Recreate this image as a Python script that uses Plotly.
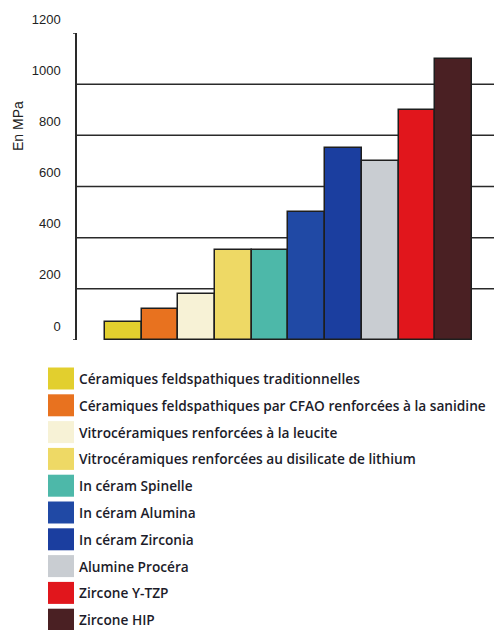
import plotly.graph_objects as go

# Flexural strength of dental ceramics (MPa)
materials = [
    "Céramiques feldspathiques traditionnelles",
    "Céramiques feldspathiques par CFAO renforcées à la sanidine",
    "Vitrocéramiques renforcées à la leucite",
    "Vitrocéramiques renforcées au disilicate de lithium",
    "In céram Spinelle",
    "In céram Alumina",
    "In céram Zirconia",
    "Alumine Procéra",
    "Zircone Y-TZP",
    "Zircone HIP",
]
strength_mpa = [70, 120, 180, 350, 350, 500, 750, 700, 900, 1100]
colors = [
    "#e2cf2e", "#e8721f", "#f7f2d6", "#eed965", "#4db8a9",
    "#2049a5", "#1b3e9f", "#c9cdd2", "#e1161c", "#4a2023",
]
y_ticks = [0, 200, 400, 600, 800, 1000, 1200]
grid_levels = [200, 400, 600, 800, 1000]

W, H = 494, 630
M_L, M_R, M_T, M_B = 77, 0, 33, 290
plot_h = H - M_T - M_B
plot_w = W - M_L - M_R


def px_to_paper_y(py):
    return (H - M_B - py) / plot_h


def px_to_paper_x(px):
    return (px - M_L) / plot_w


fig = go.Figure()
fig.add_trace(go.Bar(
    x=list(range(len(materials))),
    y=strength_mpa,
    width=1,
    marker=dict(color=colors, line=dict(color="#1e1e1e", width=1.5)),
    hovertext=materials,
    showlegend=False,
))

shapes = []
# horizontal rules behind the bars
for g in grid_levels:
    shapes.append(dict(type="line", xref="paper", yref="y", x0=0, x1=1, y0=g, y1=g,
                       line=dict(color="#2a2a2a", width=1.5), layer="below"))
# small stubs at the axis ends
for g in (y_ticks[0], y_ticks[-1]):
    shapes.append(dict(type="line", xref="paper", yref="y",
                       x0=px_to_paper_x(M_L - 4), x1=0, y0=g, y1=g,
                       line=dict(color="#2a2a2a", width=1.5)))

annotations = [dict(
    text="En MPa", xref="paper", yref="paper",
    x=px_to_paper_x(18), y=px_to_paper_y(126), textangle=-90,
    showarrow=False, font=dict(family="Liberation Sans, Arial", size=14, color="#222"),
    xanchor="center", yanchor="middle",
)]

# legend: colour swatch plus label for each material
row0, row_step = 378.5, 26.8
for i, (name, c) in enumerate(zip(materials, colors)):
    cy = row0 + i * row_step
    shapes.append(dict(type="rect", xref="paper", yref="paper",
                       x0=px_to_paper_x(48), x1=px_to_paper_x(74),
                       y0=px_to_paper_y(cy + 11), y1=px_to_paper_y(cy - 11),
                       fillcolor=c, line=dict(width=0)))
    annotations.append(dict(
        text=name, xref="paper", yref="paper",
        x=px_to_paper_x(77), y=px_to_paper_y(cy),
        xanchor="left", yanchor="middle", showarrow=False,
        font=dict(family="Open Sans", size=13.7, weight=600, color="#1c1c2a"),
    ))

fig.update_layout(
    width=W, height=H,
    margin=dict(l=M_L, r=M_R, t=M_T, b=M_B, pad=0),
    paper_bgcolor="white", plot_bgcolor="white",
    bargap=0,
    shapes=shapes,
    annotations=annotations,
    xaxis=dict(range=[-1.263, 10.1], showgrid=False, zeroline=False,
               showticklabels=False, ticks="", showline=False, fixedrange=True),
    yaxis=dict(range=[0, 1200], tickvals=y_ticks, showgrid=False, zeroline=False,
               showline=True, linecolor="#2a2a2a", linewidth=1.5, ticks="",
               ticklabelshift=-14, ticklabelstandoff=12,
               tickfont=dict(family="Liberation Sans, Arial", size=13, color="#222"),
               fixedrange=True),
    showlegend=False,
)

fig.write_html("out.html")
